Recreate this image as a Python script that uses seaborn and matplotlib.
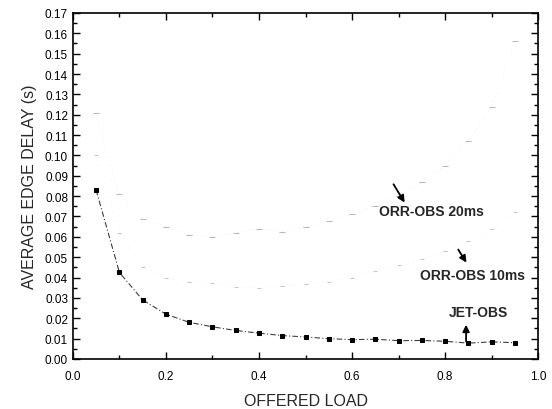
import matplotlib
matplotlib.use("Agg")
import matplotlib.pyplot as plt
import seaborn as sns
import numpy as np
import pandas as pd
from matplotlib.ticker import MultipleLocator, FormatStrFormatter

load = [0.05, 0.10, 0.15, 0.20, 0.25, 0.30, 0.35, 0.40, 0.45, 0.50,
        0.55, 0.60, 0.65, 0.70, 0.75, 0.80, 0.85, 0.90, 0.95]
jet_obs = [0.083, 0.0425, 0.029, 0.022, 0.018, 0.0158, 0.014, 0.0127, 0.0115, 0.0108,
           0.0100, 0.0095, 0.0097, 0.0090, 0.0091, 0.0087, 0.0078, 0.0084, 0.0080]
orr_20 = [0.121, 0.081, 0.069, 0.065, 0.061, 0.060, 0.062, 0.064, 0.0625, 0.065,
          0.0676, 0.071, 0.075, 0.080, 0.087, 0.095, 0.107, 0.124, 0.156]
orr_10 = [0.100, 0.062, 0.045, 0.040, 0.038, 0.0375, 0.0355, 0.035, 0.036, 0.037,
          0.038, 0.040, 0.043, 0.046, 0.049, 0.053, 0.058, 0.064, 0.072]

sns.set_style("ticks")
plt.rcParams['font.family'] = ['Liberation Sans', 'DejaVu Sans']

fig = plt.figure(figsize=(5.52, 4.10), dpi=100)
ax = fig.add_axes([0.132, 0.122, 0.843, 0.844])

df = pd.DataFrame({"load": load, "JET-OBS": jet_obs,
                   "ORR-OBS 20ms": orr_20, "ORR-OBS 10ms": orr_10})

sns.lineplot(data=df, x="load", y="ORR-OBS 20ms", ax=ax, color="#e2e2e2",
             linewidth=0.5, linestyle=(0, (1, 5)), marker="_", markersize=4,
             markeredgecolor="#b8b8b8")
sns.lineplot(data=df, x="load", y="ORR-OBS 10ms", ax=ax, color="#e6e6e6",
             linewidth=0.5, linestyle=(0, (1, 6)), marker="_", markersize=3,
             markeredgecolor="#c8c8c8")
sns.lineplot(data=df, x="load", y="JET-OBS", ax=ax, color="#404040",
             linewidth=0.8, linestyle=(0, (5, 2, 1, 2)), marker="s", markersize=3.5,
             markerfacecolor="black", markeredgecolor="black")

ax.set_xlim(0, 1.0)
ax.set_ylim(0, 0.17)
ax.xaxis.set_major_locator(MultipleLocator(0.2))
ax.xaxis.set_minor_locator(MultipleLocator(0.1))
ax.yaxis.set_major_locator(MultipleLocator(0.01))
ax.yaxis.set_minor_locator(MultipleLocator(0.005))
ax.xaxis.set_major_formatter(FormatStrFormatter("%.1f"))
ax.yaxis.set_major_formatter(FormatStrFormatter("%.2f"))
ax.tick_params(which="both", direction="in", top=True, right=True, labelsize=8.5,
               width=1.0, colors="black")
ax.tick_params(which="major", length=5)
ax.tick_params(which="minor", length=3)
ax.tick_params(axis="x", pad=8)
for s in ax.spines.values():
    s.set_linewidth(1.2)
    s.set_color("black")

ax.set_xlabel("OFFERED LOAD", fontsize=11.5, labelpad=8)
ax.set_ylabel("AVERAGE EDGE DELAY (s)", fontsize=11.5, labelpad=6)

arrow = dict(arrowstyle="-|>", color="black", lw=1.3, mutation_scale=10)
ax.annotate("", xy=(0.716, 0.0757), xytext=(0.686, 0.087), arrowprops=arrow)
ax.text(0.77, 0.0727, "ORR-OBS 20ms", fontsize=10, fontweight="bold",
        ha="center", va="center")
ax.annotate("", xy=(0.849, 0.0462), xytext=(0.825, 0.0549), arrowprops=arrow)
ax.text(0.858, 0.0413, "ORR-OBS 10ms", fontsize=10, fontweight="bold",
        ha="center", va="center")
ax.annotate("", xy=(0.845, 0.0182), xytext=(0.845, 0.0072), arrowprops=arrow)
ax.text(0.872, 0.0231, "JET-OBS", fontsize=10, fontweight="bold",
        ha="center", va="center")

fig.savefig("out.png", dpi=100)
